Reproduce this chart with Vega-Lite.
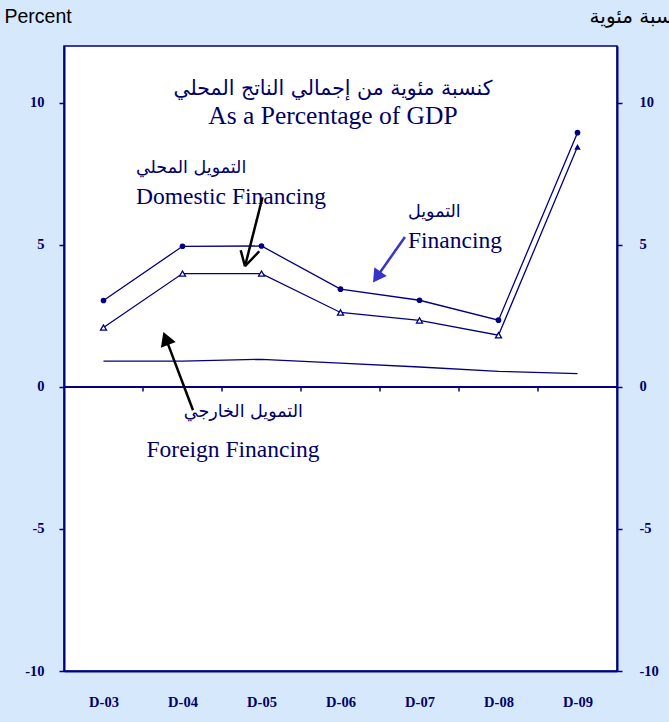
{
  "$schema": "https://vega.github.io/schema/vega-lite/v6.json",
  "width": 553,
  "height": 625,
  "autosize": {"type": "none"},
  "padding": {"left": 64, "top": 46, "right": 52, "bottom": 51},
  "background": "#d6e8fc",
  "view": {"fill": "white", "stroke": "#000080", "strokeWidth": 1.5},
  "config": {
    "axis": {"domainColor": "#000080", "domainWidth": 2, "tickColor": "#000080", "tickWidth": 1.5, "tickSize": 5, "labelFont": "Liberation Serif", "labelFontWeight": "bold", "labelFontSize": 14.5, "labelColor": "#000066", "grid": false}
  },
  "datasets": {
    "series": [
      {"i": 0, "s": "Financing", "v": 3.04}, {"i": 1, "s": "Financing", "v": 4.95}, {"i": 2, "s": "Financing", "v": 4.96}, {"i": 3, "s": "Financing", "v": 3.44}, {"i": 4, "s": "Financing", "v": 3.05}, {"i": 5, "s": "Financing", "v": 2.35}, {"i": 6, "s": "Financing", "v": 8.95},
      {"i": 0, "s": "Domestic", "v": 2.09}, {"i": 1, "s": "Domestic", "v": 3.99}, {"i": 2, "s": "Domestic", "v": 3.99}, {"i": 3, "s": "Domestic", "v": 2.62}, {"i": 4, "s": "Domestic", "v": 2.34}, {"i": 5, "s": "Domestic", "v": 1.82}, {"i": 6, "s": "Domestic", "v": 8.45},
      {"i": 0, "s": "Foreign", "v": 0.91}, {"i": 1, "s": "Foreign", "v": 0.91}, {"i": 2, "s": "Foreign", "v": 0.97}, {"i": 3, "s": "Foreign", "v": 0.84}, {"i": 4, "s": "Foreign", "v": 0.70}, {"i": 5, "s": "Foreign", "v": 0.55}, {"i": 6, "s": "Foreign", "v": 0.47}
    ],
    "ticks": [{"t": 0.5}, {"t": 1.5}, {"t": 2.5}, {"t": 3.5}, {"t": 4.5}, {"t": 5.5}],
    "blackShafts": [
      {"x1": 2.013, "y1": 6.675, "x2": 1.791, "y2": 4.247},
      {"x1": 1.737, "y1": 4.81, "x2": 1.791, "y2": 4.247},
      {"x1": 1.972, "y1": 4.775, "x2": 1.791, "y2": 4.247},
      {"x1": 1.133, "y1": -0.82, "x2": 0.789, "y2": 1.707}
    ],
    "blueShaft": [{"x1": 3.816, "y1": 5.278, "x2": 3.459, "y2": 3.867}],
    "titleAr": [{"x": 2.905, "y": 10.26, "t": "كنسبة مئوية من إجمالي الناتج المحلي"}],
    "titleEn": [{"x": 2.905, "y": 9.24, "t": "As a Percentage of GDP"}],
    "leftAr": [
      {"x": 0.411, "y": 7.52, "t": "التمويل المحلي"},
      {"x": 3.854, "y": 5.97, "t": "التمويل"}
    ],
    "leftEn": [
      {"x": 0.411, "y": 6.43, "t": "Domestic Financing"},
      {"x": 3.854, "y": 4.88, "t": "Financing"}
    ],
    "centerAr": [{"x": 1.77, "y": -1.07, "t": "التمويل الخارجي"}],
    "centerEn": [{"x": 1.639, "y": -2.47, "t": "Foreign Financing"}]
  },
  "resolve": {"scale": {"y": "independent"}},
  "layer": [
    {
      "layer": [
        {
          "data": {"name": "series"},
          "mark": {"type": "line", "color": "#000080", "strokeWidth": 1.3},
          "encoding": {
            "x": {"field": "i", "type": "quantitative", "scale": {"domain": [-0.5, 6.5], "nice": false, "zero": false},
              "axis": {"values": [0, 1, 2, 3, 4, 5, 6], "labelExpr": "['D-03','D-04','D-05','D-06','D-07','D-08','D-09'][datum.value]", "ticks": false, "labelPadding": 24, "title": null, "labelFlush": false}},
            "y": {"field": "v", "type": "quantitative", "scale": {"domain": [-10, 12], "nice": false, "zero": false},
              "axis": {"values": [-10, -5, 0, 5, 10], "labelExpr": "(datum.value < 0 ? '-' : '') + abs(datum.value)", "labelPadding": 15, "title": "Percent", "titleFont": "Liberation Sans", "titleFontSize": 19.5, "titleFontWeight": "normal", "titleColor": "black", "titleAngle": 0, "titleX": -60, "titleY": -24, "titleAlign": "left", "titleBaseline": "alphabetic"}},
            "detail": {"field": "s"}
          }
        },
        {
          "data": {"values": [{}]},
          "mark": {"type": "rule", "color": "#000080", "strokeWidth": 2},
          "encoding": {"y": {"datum": 0, "type": "quantitative"}}
        },
        {
          "data": {"name": "ticks"},
          "mark": {"type": "rule", "color": "#000080", "strokeWidth": 1.5},
          "encoding": {
            "x": {"field": "t", "type": "quantitative"},
            "y": {"datum": 0, "type": "quantitative"},
            "y2": {"datum": -0.16}
          }
        },
        {
          "data": {"name": "series"},
          "transform": [{"filter": "datum.s === 'Financing'"}],
          "mark": {"type": "point", "shape": "circle", "filled": true, "color": "#000080", "size": 32, "opacity": 1},
          "encoding": {"x": {"field": "i", "type": "quantitative"}, "y": {"field": "v", "type": "quantitative"}}
        },
        {
          "data": {"name": "series"},
          "transform": [{"filter": "datum.s === 'Domestic' && datum.i < 6"}],
          "mark": {"type": "point", "shape": "triangle-up", "filled": false, "fill": "white", "fillOpacity": 1, "stroke": "#000080", "strokeWidth": 1.3, "size": 36, "opacity": 1},
          "encoding": {"x": {"field": "i", "type": "quantitative"}, "y": {"field": "v", "type": "quantitative"}}
        },
        {
          "data": {"name": "series"},
          "transform": [{"filter": "datum.s === 'Domestic' && datum.i === 6"}],
          "mark": {"type": "point", "shape": "triangle-up", "filled": true, "color": "#000080", "size": 42, "opacity": 1},
          "encoding": {"x": {"field": "i", "type": "quantitative"}, "y": {"field": "v", "type": "quantitative"}}
        },
        {
          "data": {"name": "titleAr"},
          "mark": {"type": "text", "font": "DejaVu Sans", "fontSize": 20.5, "color": "#000066", "align": "center", "baseline": "alphabetic"},
          "encoding": {"x": {"field": "x", "type": "quantitative"}, "y": {"field": "y", "type": "quantitative"}, "text": {"field": "t"}}
        },
        {
          "data": {"name": "titleEn"},
          "mark": {"type": "text", "font": "Liberation Serif", "fontSize": 25.5, "color": "#000066", "align": "center", "baseline": "alphabetic"},
          "encoding": {"x": {"field": "x", "type": "quantitative"}, "y": {"field": "y", "type": "quantitative"}, "text": {"field": "t"}}
        },
        {
          "data": {"name": "leftAr"},
          "mark": {"type": "text", "font": "DejaVu Sans", "fontSize": 17.5, "color": "#000066", "align": "left", "baseline": "alphabetic"},
          "encoding": {"x": {"field": "x", "type": "quantitative"}, "y": {"field": "y", "type": "quantitative"}, "text": {"field": "t"}}
        },
        {
          "data": {"name": "leftEn"},
          "mark": {"type": "text", "font": "Liberation Serif", "fontSize": 23.5, "color": "#000066", "align": "left", "baseline": "alphabetic"},
          "encoding": {"x": {"field": "x", "type": "quantitative"}, "y": {"field": "y", "type": "quantitative"}, "text": {"field": "t"}}
        },
        {
          "data": {"name": "centerAr"},
          "mark": {"type": "text", "font": "DejaVu Sans", "fontSize": 17.5, "color": "#000066", "align": "center", "baseline": "alphabetic"},
          "encoding": {"x": {"field": "x", "type": "quantitative"}, "y": {"field": "y", "type": "quantitative"}, "text": {"field": "t"}}
        },
        {
          "data": {"name": "centerEn"},
          "mark": {"type": "text", "font": "Liberation Serif", "fontSize": 23.5, "color": "#000066", "align": "center", "baseline": "alphabetic"},
          "encoding": {"x": {"field": "x", "type": "quantitative"}, "y": {"field": "y", "type": "quantitative"}, "text": {"field": "t"}}
        },
        {
          "data": {"name": "blackShafts"},
          "mark": {"type": "rule", "color": "black", "strokeWidth": 2.5},
          "encoding": {"x": {"field": "x1", "type": "quantitative"}, "y": {"field": "y1", "type": "quantitative"}, "x2": {"field": "x2"}, "y2": {"field": "y2"}}
        },
        {
          "data": {"name": "blueShaft"},
          "mark": {"type": "rule", "color": "#3535cc", "strokeWidth": 2.5},
          "encoding": {"x": {"field": "x1", "type": "quantitative"}, "y": {"field": "y1", "type": "quantitative"}, "x2": {"field": "x2"}, "y2": {"field": "y2"}}
        },
        {
          "data": {"values": [{"x": 0.789, "y": 1.707}]},
          "mark": {"type": "point", "shape": "triangle-up", "filled": true, "color": "black", "size": 250, "angle": 339, "opacity": 1},
          "encoding": {"x": {"field": "x", "type": "quantitative"}, "y": {"field": "y", "type": "quantitative"}}
        },
        {
          "data": {"values": [{"x": 3.459, "y": 3.867}]},
          "mark": {"type": "point", "shape": "triangle-up", "filled": true, "color": "#3535cc", "size": 230, "angle": 215, "opacity": 1},
          "encoding": {"x": {"field": "x", "type": "quantitative"}, "y": {"field": "y", "type": "quantitative"}}
        }
      ]
    },
    {
      "data": {"name": "series"},
      "mark": {"type": "point", "opacity": 0},
      "encoding": {
        "y": {"field": "v", "type": "quantitative", "scale": {"domain": [-10, 12], "nice": false, "zero": false},
          "axis": {"orient": "right", "values": [-10, -5, 0, 5, 10], "labelExpr": "(datum.value < 0 ? '-' : '') + abs(datum.value)", "labelPadding": 17, "title": "نسبة مئوية", "titleFont": "DejaVu Sans", "titleFontSize": 20, "titleFontWeight": "normal", "titleColor": "black", "titleAngle": 0, "titleX": 62, "titleY": -24, "titleAlign": "right", "titleBaseline": "alphabetic"}}
      }
    }
  ]
}
